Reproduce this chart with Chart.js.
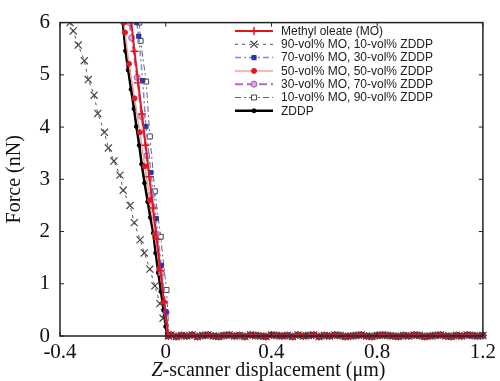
<!DOCTYPE html>
<html>
<head>
<meta charset="utf-8">
<script src="https://cdn.jsdelivr.net/npm/chart.js@4.4.0/dist/chart.umd.min.js"></script>
<style>
  body { margin: 0; background: #fff; }
  #wrap { width: 500px; height: 381px; }
</style>
</head>
<body>
<div id="wrap"><canvas id="forceChart" width="500" height="381"></canvas></div>
<script>
// tick labels
const xTicks = [-0.4, 0, 0.4, 0.8, 1.2];
const yTicks = [0, 1, 2, 3, 4, 5, 6];

// series names (legend order)
const seriesNames = [
  'Methyl oleate (MO)',
  '90-vol% MO, 10-vol% ZDDP',
  '70-vol% MO, 30-vol% ZDDP',
  '50-vol% MO, 50-vol% ZDDP',
  '30-vol% MO, 70-vol% ZDDP',
  '10-vol% MO, 90-vol% ZDDP',
  'ZDDP'
];

// contact (steep) part of each curve
const moX   = [-0.130, -0.118, -0.104, -0.090, -0.076, -0.062, -0.048, -0.034, -0.020, -0.006, 0.010];
const moY   = [6.0, 5.45, 4.85, 4.25, 3.65, 3.05, 2.45, 1.85, 1.25, 0.65, 0.0];
const mo90X = [-0.362, -0.350, -0.331, -0.308, -0.293, -0.271, -0.257, -0.232, -0.217, -0.196, -0.173, -0.161, -0.135, -0.119, -0.097, -0.081, -0.060, -0.041, -0.022, -0.010, 0.010];
const mo90Y = [6.0, 5.84, 5.57, 5.27, 4.91, 4.61, 4.26, 3.90, 3.60, 3.35, 3.08, 2.79, 2.50, 2.17, 1.84, 1.59, 1.28, 0.96, 0.62, 0.34, 0.0];
const mo70X = [-0.110, -0.102, -0.087, -0.075, -0.056, -0.036, -0.017, 0.001, 0.010];
const mo70Y = [6.0, 5.74, 4.89, 4.01, 3.13, 2.25, 1.35, 0.46, 0.0];
const mo50X = [-0.158, -0.154, -0.139, -0.118, -0.098, -0.079, -0.060, -0.041, -0.023, -0.006, 0.008];
const mo50Y = [6.0, 5.81, 5.21, 4.55, 3.90, 3.25, 2.60, 1.95, 1.30, 0.65, 0.0];
const mo30X = [-0.137, -0.129, -0.108, -0.091, -0.072, -0.053, -0.035, -0.016, 0.002, 0.010];
const mo30Y = [6.0, 5.71, 4.95, 4.20, 3.45, 2.70, 1.95, 1.20, 0.45, 0.0];
const mo10X = [-0.100, -0.095, -0.074, -0.060, -0.041, -0.019, 0.003, 0.013];
const mo10Y = [6.0, 5.65, 4.87, 3.82, 2.77, 1.90, 0.88, 0.0];
const zddpX = [-0.162, -0.152, -0.142, -0.131, -0.120, -0.111, -0.100, -0.091, -0.080, -0.068, -0.058, -0.047, -0.038, -0.028, -0.018, -0.008, 0.000, 0.006];
const zddpY = [6.0, 5.46, 5.09, 4.72, 4.35, 4.01, 3.65, 3.29, 2.93, 2.57, 2.27, 1.97, 1.59, 1.21, 0.85, 0.50, 0.18, 0.0];

// non-contact part (flat, ~0 nN)
const baseX = [0.02, 0.04, 0.06, 0.08, 0.10, 0.12, 0.14, 0.16, 0.18, 0.20,
               0.22, 0.24, 0.26, 0.28, 0.30, 0.32, 0.34, 0.36, 0.38, 0.40,
               0.42, 0.44, 0.46, 0.48, 0.50, 0.52, 0.54, 0.56, 0.58, 0.60,
               0.62, 0.64, 0.66, 0.68, 0.70, 0.72, 0.74, 0.76, 0.78, 0.80,
               0.82, 0.84, 0.86, 0.88, 0.90, 0.92, 0.94, 0.96, 0.98, 1.00,
               1.02, 1.04, 1.06, 1.08, 1.10, 1.12, 1.14, 1.16, 1.18, 1.20];
const baseY = [0.02, -0.01, 0.01, 0.00, 0.02, -0.01, 0.01, 0.02, 0.00, -0.01,
               0.01, 0.02, 0.00, 0.01, -0.01, 0.02, 0.01, 0.00, -0.01, 0.02,
               0.01, 0.00, 0.01, -0.01, 0.02, 0.00, 0.01, 0.02, -0.01, 0.01,
               0.00, 0.02, 0.01, -0.01, 0.00, 0.01, 0.02, 0.00, -0.01, 0.01,
               0.02, 0.01, 0.00, -0.01, 0.01, 0.00, 0.02, 0.01, -0.01, 0.00,
               0.01, 0.02, 0.00, -0.01, 0.01, 0.00, 0.02, 0.01, 0.00, 0.01];

function pts(xs, ys) {
  const ax = xs.concat(baseX), ay = ys.concat(baseY);
  return ax.map((x, i) => ({ x: x, y: ay[i] }));
}

const clipBox = { left: 0, top: 0, right: 6, bottom: 6 };

const datasets = [
  { label: seriesNames[0], data: pts(moX, moY), borderColor: '#e3161c', backgroundColor: '#e3161c',
    borderWidth: 2, pointStyle: 'cross', pointRadius: 4, pointBorderWidth: 1.5 },
  { label: seriesNames[1], data: pts(mo90X, mo90Y), borderColor: '#555', backgroundColor: '#444',
    borderWidth: 1, borderDash: [3, 4], pointStyle: 'crossRot', pointRadius: 5, pointBorderColor: '#444', pointBorderWidth: 1.2 },
  { label: seriesNames[2], data: pts(mo70X, mo70Y), borderColor: '#7f88dc', backgroundColor: '#2437a8',
    borderWidth: 1.5, borderDash: [6, 3, 2, 3], pointStyle: 'rect', pointRadius: 3, pointBorderColor: '#2437a8', pointBorderWidth: 1 },
  { label: seriesNames[3], data: pts(mo50X, mo50Y), borderColor: '#f4a2a0', backgroundColor: '#e0191b',
    borderWidth: 1.5, pointStyle: 'circle', pointRadius: 2.5, pointBorderColor: '#e0191b', pointBorderWidth: 1 },
  { label: seriesNames[4], data: pts(mo30X, mo30Y), borderColor: '#b467c2', backgroundColor: '#d9a6de',
    borderWidth: 2, borderDash: [8, 4], pointStyle: 'circle', pointRadius: 3, pointBorderColor: '#a457b2', pointBorderWidth: 1 },
  { label: seriesNames[5], data: pts(mo10X, mo10Y), borderColor: '#666', backgroundColor: '#fff',
    borderWidth: 1, borderDash: [6, 3, 2, 3], pointStyle: 'rect', pointRadius: 3.5, pointBorderColor: '#444', pointBorderWidth: 1 },
  { label: seriesNames[6], data: pts(zddpX, zddpY), borderColor: '#000', backgroundColor: '#000',
    borderWidth: 2.5, pointStyle: 'circle', pointRadius: 2, pointBorderColor: '#000', pointBorderWidth: 1 }
];
datasets.forEach(d => { d.clip = clipBox; d.tension = 0; d.fill = false; });

// frame, inward ticks, legend and x title
const decorations = {
  id: 'decorations',
  afterDraw(chart) {
    const ctx = chart.ctx, a = chart.chartArea;
    const xs = chart.scales.x, ys = chart.scales.y;
    ctx.save();
    ctx.strokeStyle = '#222';
    ctx.lineWidth = 1.5;
    ctx.setLineDash([]);
    ctx.strokeRect(a.left, a.top, a.right - a.left, a.bottom - a.top);
    ctx.lineWidth = 1;
    ctx.beginPath();
    yTicks.forEach(v => {
      const py = ys.getPixelForValue(v);
      ctx.moveTo(a.left, py); ctx.lineTo(a.left + 4, py);
      ctx.moveTo(a.right, py); ctx.lineTo(a.right - 4, py);
    });
    xTicks.forEach(v => {
      const px = xs.getPixelForValue(v);
      ctx.moveTo(px, a.bottom); ctx.lineTo(px, a.bottom - 4);
      ctx.moveTo(px, a.top); ctx.lineTo(px, a.top + 4);
    });
    ctx.stroke();

    // legend
    const lx0 = 235, lx1 = 273, tx = 281, ly0 = 31, step = 13.3;
    ctx.font = '12px "Liberation Sans", Arial, sans-serif';
    ctx.textBaseline = 'middle';
    ctx.textAlign = 'left';
    chart.data.datasets.forEach((d, i) => {
      const y = ly0 + i * step;
      ctx.strokeStyle = d.borderColor;
      ctx.lineWidth = d.borderWidth;
      ctx.setLineDash(d.borderDash || []);
      ctx.beginPath(); ctx.moveTo(lx0, y); ctx.lineTo(lx1, y); ctx.stroke();
      ctx.setLineDash([]);
      ctx.fillStyle = d.backgroundColor;
      ctx.strokeStyle = d.pointBorderColor || d.borderColor;
      ctx.lineWidth = d.pointBorderWidth;
      Chart.helpers.drawPoint(ctx, { pointStyle: d.pointStyle, radius: d.pointRadius, rotation: 0, borderWidth: d.pointBorderWidth }, (lx0 + lx1) / 2, y);
      ctx.fillStyle = '#222';
      ctx.fillText(d.label, tx, y + 0.5);
    });

    // x title with italic Z
    const f1 = 'italic 20px "Liberation Serif", "Times New Roman", serif';
    const f2 = '20px "Liberation Serif", "Times New Roman", serif';
    const t1 = 'Z', t2 = '-scanner displacement (\u03bcm)';
    ctx.font = f1; const w1 = ctx.measureText(t1).width;
    ctx.font = f2; const w2 = ctx.measureText(t2).width;
    const cx = (a.left + a.right) / 2 - 3, start = cx - (w1 + w2) / 2, ty = 371;
    ctx.fillStyle = '#111';
    ctx.font = f1; ctx.fillText(t1, start, ty);
    ctx.font = f2; ctx.fillText(t2, start + w1, ty);
    ctx.restore();
  }
};

const ctx = document.getElementById('forceChart').getContext('2d');

new Chart(ctx, {
  type: 'line',
  data: { datasets: datasets },
  options: {
    responsive: false,
    animation: false,
    parsing: false,
    layout: { padding: { top: 18, right: 17, left: 0, bottom: 0 } },
    plugins: {
      legend: { display: false },
      tooltip: { enabled: false }
    },
    scales: {
      x: {
        type: 'linear',
        min: -0.4, max: 1.2,
        grid: { display: false, drawTicks: false },
        border: { display: false },
        afterBuildTicks: s => { s.ticks = xTicks.map(v => ({ value: v })); },
        afterFit: s => { s.height = 45; },
        ticks: {
          padding: 4,
          color: '#111',
          font: { family: '"Liberation Serif", "Times New Roman", serif', size: 21 },
          callback: v => String(v)
        }
      },
      y: {
        type: 'linear',
        min: 0, max: 6,
        grid: { display: false, drawTicks: false },
        border: { display: false },
        afterBuildTicks: s => { s.ticks = yTicks.map(v => ({ value: v })); },
        afterFit: s => { s.width = 60; },
        title: {
          display: true,
          text: 'Force (nN)',
          color: '#111',
          padding: { top: 3, bottom: 0 },
          font: { family: '"Liberation Serif", "Times New Roman", serif', size: 20 }
        },
        ticks: {
          padding: 10,
          color: '#111',
          font: { family: '"Liberation Serif", "Times New Roman", serif', size: 21 }
        }
      }
    }
  },
  plugins: [decorations]
});
</script>
</body>
</html>
